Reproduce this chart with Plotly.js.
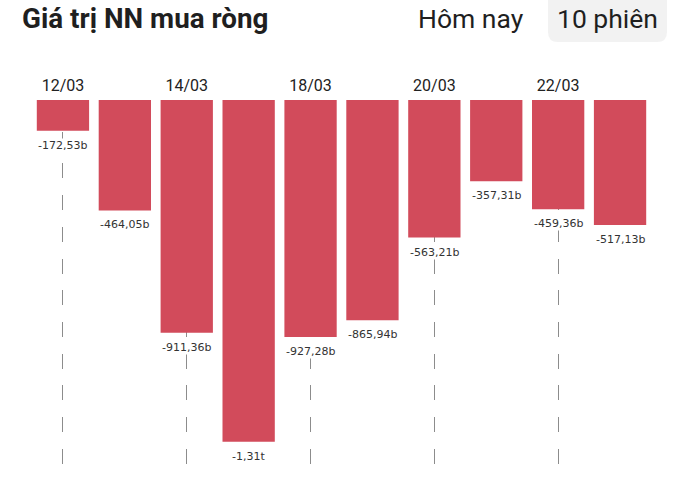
<!DOCTYPE html>
<html>
<head>
<meta charset="utf-8">
<script src="https://cdn.plot.ly/plotly-3.0.1.min.js"></script>
<style>html,body{margin:0;padding:0;background:#fff;}#chart{width:682px;height:500px;}</style>
</head>
<body>
<div id="chart"></div>
<script>
const sessions = ['12/03','13/03','14/03','15/03','18/03','19/03','20/03','21/03','22/03','25/03'];
const netBuy = [-172.53, -464.05, -911.36, -1310, -927.28, -865.94, -563.21, -357.31, -459.36, -517.13];
const valueLabels = ['-172,53b','-464,05b','-911,36b','-1,31t','-927,28b','-865,94b','-563,21b','-357,31b','-459,36b','-517,13b'];
const tickDates = ['12/03','14/03','18/03','20/03','22/03'];

const W = 682, H = 500;
const M = {l: 32, r: 31, t: 100, b: 35};
const pw = W - M.l - M.r, ph = H - M.t - M.b;
const px = x => (x - M.l) / pw;
const py = y => (H - M.b - y) / ph;

// rounded pill behind "10 phiên"
const bx0 = 548, bx1 = 667, by0 = -12, by1 = 42, rr = 10;
const boxPath = 'M' + px(bx0) + ',' + py(by0) +
  ' L' + px(bx0) + ',' + py(by1 - rr) +
  ' Q' + px(bx0) + ',' + py(by1) + ' ' + px(bx0 + rr) + ',' + py(by1) +
  ' L' + px(bx1 - rr) + ',' + py(by1) +
  ' Q' + px(bx1) + ',' + py(by1) + ' ' + px(bx1) + ',' + py(by1 - rr) +
  ' L' + px(bx1) + ',' + py(by0) + ' Z';

const annotations = sessions.map((s, i) => ({
  x: s, y: netBuy[i], xref: 'x', yref: 'y',
  text: valueLabels[i], showarrow: false,
  yanchor: 'middle', yshift: -14.5,
  bgcolor: '#ffffff', borderpad: 0,
  font: {family: 'DejaVu Sans', size: 11, color: '#333333'}
}));

annotations.push({
  xref: 'paper', yref: 'paper', x: px(20), y: py(18), xanchor: 'left', yanchor: 'middle',
  text: '<b>Giá trị NN mua ròng</b>', showarrow: false,
  font: {family: 'Roboto', size: 27.8, color: '#1f1f1f'}
});
annotations.push({
  xref: 'paper', yref: 'paper', x: px(470.5), y: py(18), xanchor: 'center', yanchor: 'middle',
  text: 'Hôm nay', showarrow: false,
  font: {family: 'Roboto', size: 26.5, color: '#1f1f1f'}
});
annotations.push({
  xref: 'paper', yref: 'paper', x: px(607), y: py(18), xanchor: 'center', yanchor: 'middle',
  text: '10 phiên', showarrow: false,
  font: {family: 'Roboto', size: 26.5, color: '#1f1f1f'}
});

const trace = {
  type: 'bar',
  x: sessions,
  y: netBuy,
  marker: {color: '#D24B5B', line: {width: 0}},
  hoverinfo: 'skip'
};

const layout = {
  width: W, height: H,
  margin: M,
  paper_bgcolor: '#ffffff', plot_bgcolor: '#ffffff',
  showlegend: false,
  bargap: 0.155,
  xaxis: {
    type: 'category',
    side: 'top',
    tickmode: 'array',
    tickvals: tickDates,
    ticktext: tickDates,
    ticks: '',
    ticklabelstandoff: 5,
    showline: false,
    zeroline: false,
    showgrid: true,
    gridcolor: '#8c8c8c',
    gridwidth: 1,
    griddash: '15px,16.7px',
    tickfont: {family: 'Roboto', size: 16, color: '#222222'},
    range: [-0.5, 9.5],
    fixedrange: true
  },
  yaxis: {
    range: [-1395, -60],
    showgrid: false, zeroline: false, showline: false,
    showticklabels: false, ticks: '', fixedrange: true
  },
  shapes: [{
    type: 'path', xref: 'paper', yref: 'paper', path: boxPath,
    fillcolor: '#f2f2f2', line: {width: 0}, layer: 'below'
  }],
  annotations: annotations
};

Plotly.newPlot('chart', [trace], layout, {displayModeBar: false, staticPlot: true});
</script>
</body>
</html>
